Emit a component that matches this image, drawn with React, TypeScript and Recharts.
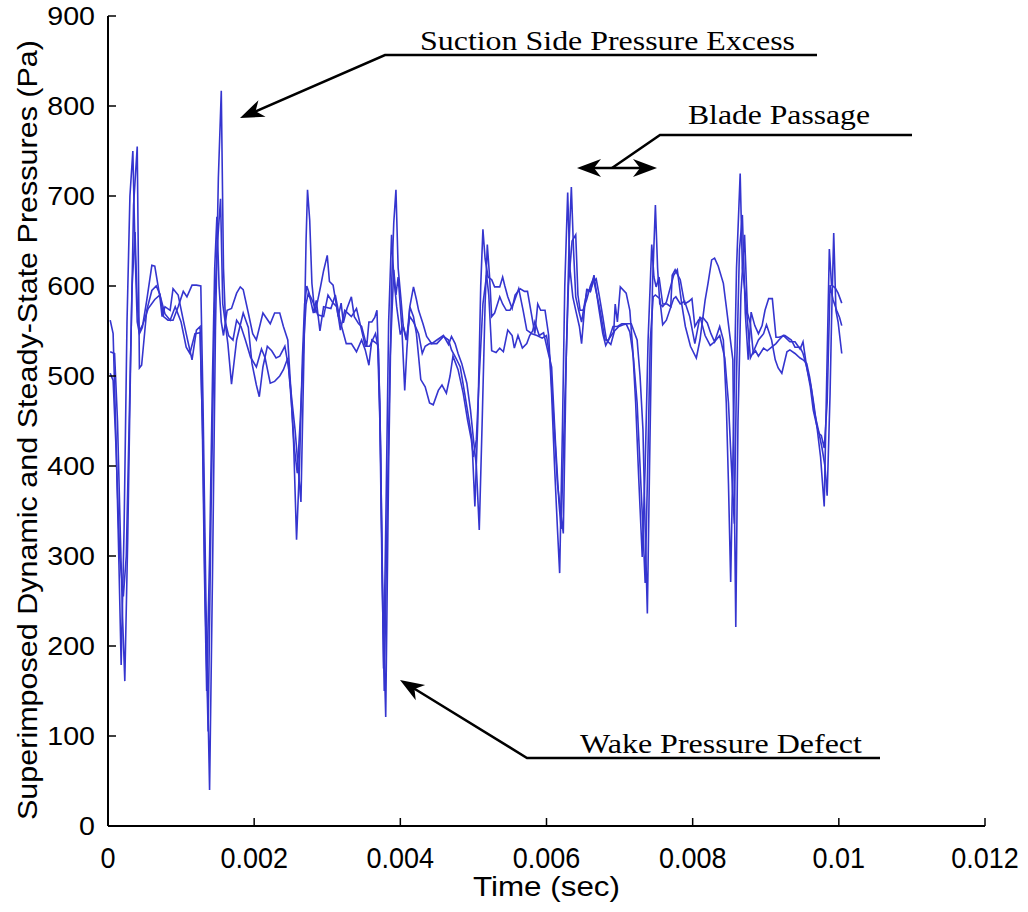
import React from 'react';
import { LineChart, Line, XAxis, YAxis } from 'recharts';

// sample times are in units of 10 microseconds, pressures in Pa
const TIME_UNIT = 1e-5;

const traceA: [number, number][] = [
  [3, 562], [7, 547], [11, 430], [15, 290], [18, 179], [22, 330], [26, 560], [30, 700], [34, 750], [37, 640], [40, 560], [43, 547],
  [47, 554], [53, 584], [60, 623], [64, 622], [71, 588], [74, 566], [78, 577], [85, 573], [89, 597], [96, 590], [103, 562], [110, 536], [115, 518], [121, 551], [126, 555],
  [129, 450], [132, 280], [135, 150], [139, 300], [143, 500], [146, 620], [149, 677], [152, 600], [155, 560], [158, 545],
  [163, 573], [169, 575], [176, 592], [181, 599], [185, 596], [192, 570], [198, 547], [203, 540], [212, 570], [222, 558], [228, 570], [235, 570], [240, 555], [246, 540],
  [250, 487], [254, 425], [258, 318], [262, 400], [266, 520], [269, 580], [272, 600], [276, 590],
  [279, 585], [283, 577], [287, 568], [295, 566], [301, 590], [308, 581], [313, 577], [318, 551], [324, 573], [333, 566], [340, 575], [347, 551], [352, 533], [358, 533], [366, 547], [370, 530],
  [373, 420], [377, 175], [380, 330], [384, 560], [388, 657], [391, 610],
  [395, 577], [400, 546], [404, 555], [408, 540], [413, 566], [418, 560], [425, 547], [430, 525], [434, 533], [440, 536], [450, 536], [459, 544], [466, 540], [470, 529], [476, 520], [482, 510], [488, 481], [494, 451], [498, 429],
  [502, 355], [506, 450], [510, 600], [513, 663], [516, 630],
  [520, 610], [525, 607], [529, 599], [536, 599], [540, 610], [543, 600], [547, 588], [553, 575], [557, 590], [564, 597], [570, 594], [574, 594], [580, 566], [584, 547], [588, 580], [592, 573], [598, 573], [603, 545],
  [607, 480], [611, 400], [615, 330], [618, 281], [622, 450], [625, 600], [629, 704], [632, 620],
  [636, 588], [640, 573], [645, 555], [648, 536], [652, 575], [655, 596], [660, 594], [665, 612], [668, 595], [672, 573], [677, 547], [681, 534], [686, 542], [692, 549], [694, 580], [697, 560], [701, 599], [709, 592], [714, 573], [718, 530],
  [722, 470], [726, 390], [731, 299], [735, 400], [739, 540], [744, 646], [747, 610],
  [750, 599], [754, 610], [759, 580], [765, 580], [770, 577], [772, 612], [776, 618], [783, 607], [789, 580], [795, 583], [799, 586], [803, 555], [808, 562], [814, 565], [820, 559], [825, 547], [830, 538], [837, 555], [842, 540],
  [846, 470], [849, 380], [852, 271], [856, 450], [860, 620], [865, 725], [868, 620],
  [872, 591], [879, 520], [883, 527], [890, 540], [897, 547], [901, 557], [908, 540], [913, 518], [917, 509], [922, 503], [929, 527], [933, 529], [940, 525], [947, 520], [951, 518], [956, 514], [960, 499], [965, 473], [970, 444], [975, 410],
  [980, 355], [983, 480], [987, 641], [990, 601], [995, 598], [999, 592], [1004, 581],
];

const traceB: [number, number][] = [
  [3, 527], [9, 525], [13, 450], [17, 320], [20, 230], [23, 161], [27, 320], [31, 520], [35, 690], [40, 755], [43, 509],
  [46, 512], [53, 573], [60, 595], [66, 600], [71, 591], [76, 566], [82, 562], [89, 562], [96, 577], [103, 594], [108, 588], [115, 601], [121, 601], [127, 600],
  [130, 470], [134, 250], [139, 40], [143, 280], [147, 550], [151, 720], [155, 817], [158, 620], [161, 555],
  [164, 536], [169, 491], [176, 540], [185, 570], [192, 554], [197, 514], [203, 490], [207, 477], [212, 510], [218, 533], [224, 528], [230, 520], [235, 522], [242, 533], [247, 510],
  [252, 470], [256, 440], [260, 400], [264, 360], [268, 520], [271, 650], [273, 707], [276, 673],
  [279, 603], [283, 570], [287, 584], [291, 600], [295, 617], [300, 634], [303, 605], [308, 601], [315, 566], [319, 581], [322, 559], [327, 575], [333, 588], [337, 566], [343, 558], [347, 555], [354, 533], [357, 560], [361, 560], [365, 565], [368, 573],
  [372, 470], [376, 250], [380, 121], [384, 400], [388, 600], [391, 670], [394, 707], [397, 620],
  [401, 584], [404, 555], [409, 540], [411, 560], [413, 577], [418, 599], [422, 585], [425, 573], [431, 558], [436, 544], [443, 536], [450, 540], [459, 545], [466, 535], [470, 544], [475, 536], [479, 525], [484, 514], [491, 492], [496, 462], [500, 430], [504, 400],
  [508, 329], [512, 450], [516, 580], [519, 646], [522, 612],
  [525, 566], [529, 570], [536, 588], [540, 580], [545, 573], [550, 573], [555, 581], [562, 597], [568, 573], [573, 551], [580, 547], [587, 545], [594, 542], [600, 545], [605, 518],
  [610, 450], [615, 380], [620, 345], [623, 325], [627, 520], [631, 650], [634, 710], [637, 640],
  [640, 588], [644, 573], [648, 560], [652, 580], [656, 596], [660, 594], [664, 605], [668, 608], [672, 590], [677, 566], [682, 540], [688, 535], [693, 550], [699, 555], [705, 557], [711, 558], [716, 558], [720, 549], [724, 540],
  [728, 500], [732, 440], [735, 330], [738, 236], [741, 400], [745, 600], [749, 690], [752, 620],
  [755, 580], [759, 577], [764, 582], [774, 612], [779, 618], [785, 580], [790, 555], [797, 533], [805, 520], [810, 540], [817, 584], [821, 603], [826, 629], [830, 631], [835, 622], [842, 603], [846, 577], [851, 544], [855, 518],
  [859, 221], [862, 450], [866, 590], [871, 657], [875, 570],
  [879, 558], [883, 525], [886, 528], [890, 522], [897, 531], [902, 528], [908, 532], [914, 536], [918, 540], [924, 545], [933, 538], [940, 538], [947, 530], [951, 538], [956, 510], [962, 488], [967, 458], [972, 440],
  [977, 420], [981, 400], [984, 367], [988, 480], [990, 560], [993, 659], [996, 573], [999, 560], [1004, 525],
];

const traceC: [number, number][] = [
  [3, 503], [7, 495], [11, 420], [16, 300], [21, 255], [25, 300], [29, 450], [33, 600], [37, 660], [40, 580], [43, 550],
  [48, 558], [55, 575], [64, 585], [71, 590], [78, 569], [85, 562], [92, 577], [100, 560], [107, 532], [112, 525], [119, 547], [126, 548],
  [130, 420], [133, 250], [137, 105], [141, 350], [146, 580], [150, 650], [154, 697], [157, 580], [160, 562],
  [165, 545], [171, 540], [176, 562], [182, 555], [188, 540], [195, 521], [203, 510], [210, 530], [215, 520], [222, 492], [228, 494], [235, 500], [240, 507], [246, 520], [251, 470],
  [255, 420], [259, 392], [263, 450], [268, 540], [271, 580], [274, 592], [277, 585],
  [281, 570], [285, 584], [290, 550], [295, 577], [305, 575], [311, 590], [318, 560], [326, 536], [333, 536], [340, 527], [347, 540], [352, 529], [357, 512], [361, 540], [366, 537], [369, 535],
  [372, 450], [375, 280], [378, 150], [382, 350], [386, 520], [391, 618], [394, 590],
  [397, 610], [402, 555], [406, 484], [409, 530], [413, 577], [418, 566], [422, 547], [428, 496], [434, 488], [440, 470], [445, 468], [452, 484], [457, 490], [463, 481], [468, 500], [472, 522], [479, 507], [486, 481], [492, 451], [497, 430],
  [500, 410], [504, 429], [508, 500], [513, 580], [518, 612], [521, 590],
  [525, 528], [531, 526], [536, 531], [541, 527], [547, 551], [553, 545], [556, 531], [561, 545], [567, 531], [573, 536], [577, 545], [581, 550], [584, 560], [590, 545], [596, 548], [602, 527], [607, 510],
  [612, 430], [617, 360], [620, 330], [625, 470], [630, 600], [635, 650], [640, 657], [643, 590],
  [646, 573], [650, 573], [655, 585], [660, 600], [664, 608], [669, 590], [674, 570], [680, 540], [685, 540], [691, 555], [697, 555], [703, 558], [709, 558], [714, 549], [719, 520], [724, 470],
  [728, 400], [732, 330], [735, 270], [739, 420], [742, 540], [746, 588], [749, 590],
  [755, 586], [759, 557], [764, 562], [774, 586], [777, 588], [783, 580], [789, 583], [796, 566], [803, 536], [810, 566], [817, 545], [824, 534], [830, 538], [837, 545], [844, 520], [849, 470],
  [853, 400], [857, 336], [860, 500], [864, 640], [868, 679], [872, 570],
  [876, 518], [880, 571], [885, 556], [890, 547], [895, 556], [899, 573], [904, 586], [909, 586], [914, 543], [918, 543], [926, 545], [935, 540], [940, 532], [947, 532], [951, 525], [956, 510], [961, 488], [965, 462], [970, 444],
  [973, 436], [976, 434], [980, 420], [984, 470], [988, 601], [992, 585], [997, 573], [1001, 565], [1004, 556],
];

const timeTicks = [0, 0.002, 0.004, 0.006, 0.008, 0.01, 0.012];
const pressureTicks = [0, 100, 200, 300, 400, 500, 600, 700, 800, 900];

const TRACE_COLOR = '#3535cf';
const SANS = '"Liberation Sans", Arial, sans-serif';
const SERIF = '"Liberation Serif", "Times New Roman", serif';

const toPoints = (trace: [number, number][]) => trace.map(([t, p]) => ({ t: t * TIME_UNIT, p }));

const YTick = (props: any) => {
  const { x, y, payload } = props;
  return (
    <g>
      <line x1={x} x2={x + 8} y1={y} y2={y} stroke="#000" strokeWidth={1.5} />
      <g transform={`translate(${x - 13},${y}) scale(1.1,1)`}>
        <text x={0} y={0} dy="0.36em" textAnchor="end" fontFamily={SANS} fontSize={26} fill="#000">
          {payload.value}
        </text>
      </g>
    </g>
  );
};

const XTick = (props: any) => {
  const { x, y, payload } = props;
  return (
    <g>
      <line x1={x} x2={x} y1={y} y2={y - 8} stroke="#000" strokeWidth={1.5} />
      <g transform={`translate(${x},${y + 42}) scale(0.9,1)`}>
        <text x={0} y={0} textAnchor="middle" fontFamily={SANS} fontSize={30} fill="#000">
          {String(payload.value)}
        </text>
      </g>
    </g>
  );
};

const arrowHead = (tx: number, ty: number, fx: number, fy: number) => {
  const len = 24;
  const half = 9;
  const dx = tx - fx;
  const dy = ty - fy;
  const d = Math.hypot(dx, dy);
  const ux = dx / d;
  const uy = dy / d;
  const bx = tx - ux * len;
  const by = ty - uy * len;
  const nx = bx + ux * 7;
  const ny = by + uy * 7;
  return `M${tx},${ty} L${bx - uy * half},${by + ux * half} L${nx},${ny} L${bx + uy * half},${by - ux * half} Z`;
};

const Annotations = () => (
  <svg width={1028} height={912} style={{ position: 'absolute', left: 0, top: 0, pointerEvents: 'none' }}>
    <g fill="none" stroke="#000" strokeWidth={2.5}>
      <polyline points="817,55 385,55 252,113" />
      <polyline points="912,135 660,135 612,168" />
      <line x1={585} y1={168} x2={649} y2={168} />
      <polyline points="880,758 527,758 410,686" />
    </g>
    <g fill="#000">
      <path d={arrowHead(240, 118, 385, 55)} />
      <path d={arrowHead(577, 168, 657, 168)} />
      <path d={arrowHead(657, 168, 577, 168)} />
      <path d={arrowHead(400, 680, 527, 758)} />
    </g>
    <g fontFamily={SERIF} fontSize={28} fill="#000">
      <text x={420} y={50} textLength={375} lengthAdjust="spacingAndGlyphs">Suction Side Pressure Excess</text>
      <text x={688} y={124} textLength={182} lengthAdjust="spacingAndGlyphs">Blade Passage</text>
      <text x={580} y={753} textLength={282} lengthAdjust="spacingAndGlyphs">Wake Pressure Defect</text>
    </g>
    <text x={473} y={896} fontFamily={SANS} fontSize={28} textLength={147} lengthAdjust="spacingAndGlyphs" fill="#000">
      Time (sec)
    </text>
    <text
      transform="translate(37,820) rotate(-90)"
      x={0}
      y={0}
      fontFamily={SANS}
      fontSize={28}
      textLength={780}
      lengthAdjust="spacingAndGlyphs"
      fill="#000"
    >
      Superimposed Dynamic and Steady-State Pressures (Pa)
    </text>
  </svg>
);

export default function App() {
  return (
    <div style={{ position: 'absolute', left: 0, top: 0, width: 1028, height: 912, background: '#fff' }}>
      <LineChart width={1028} height={912} margin={{ top: 16, right: 43, bottom: 46, left: 48 }}>
        <XAxis
          type="number"
          dataKey="t"
          domain={[0, 0.012]}
          ticks={timeTicks}
          interval={0}
          height={40}
          tickSize={0}
          tickMargin={0}
          tickLine={false}
          tick={<XTick />}
          axisLine={{ stroke: '#000', strokeWidth: 2 }}
          allowDataOverflow
        />
        <YAxis
          type="number"
          domain={[0, 900]}
          ticks={pressureTicks}
          interval={0}
          width={60}
          tickSize={0}
          tickMargin={0}
          tickLine={false}
          tick={<YTick />}
          axisLine={{ stroke: '#000', strokeWidth: 2 }}
          allowDataOverflow
        />
        <Line data={toPoints(traceA)} dataKey="p" type="linear" stroke={TRACE_COLOR} strokeWidth={1.6} dot={false} isAnimationActive={false} />
        <Line data={toPoints(traceB)} dataKey="p" type="linear" stroke={TRACE_COLOR} strokeWidth={1.6} dot={false} isAnimationActive={false} />
        <Line data={toPoints(traceC)} dataKey="p" type="linear" stroke={TRACE_COLOR} strokeWidth={1.6} dot={false} isAnimationActive={false} />
      </LineChart>
      <Annotations />
    </div>
  );
}
